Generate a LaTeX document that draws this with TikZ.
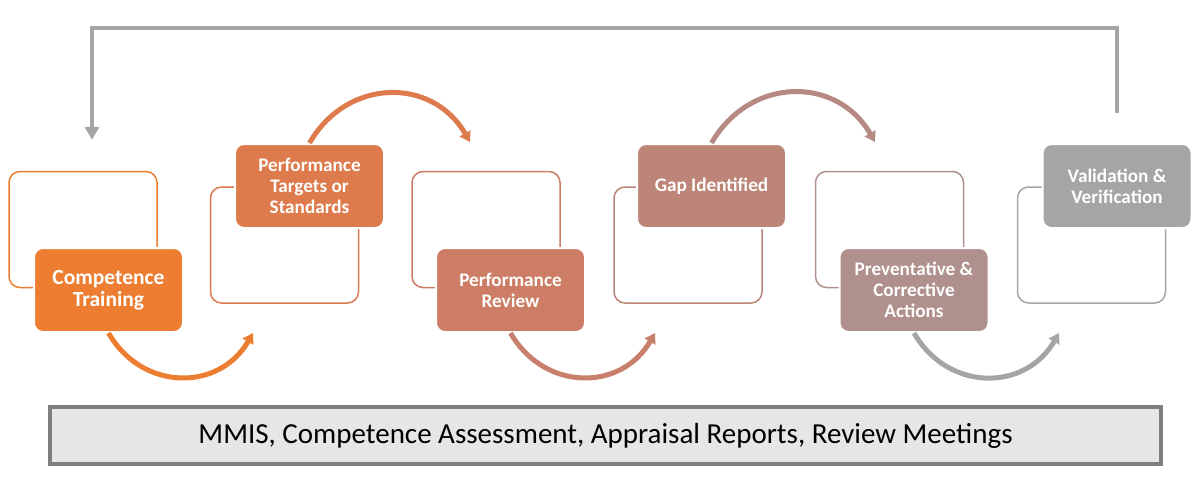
\documentclass[tikz,border=0pt]{standalone}
\usepackage{fontspec}
\setmainfont{Carlito}
\usetikzlibrary{arrows.meta}
\definecolor{stageA}{HTML}{ED7D31}
\definecolor{stageB}{HTML}{DE7B4C}
\definecolor{stageC}{HTML}{CD7D65}
\definecolor{stageD}{HTML}{BC8578}
\definecolor{stageE}{HTML}{B0908C}
\definecolor{stageF}{HTML}{A5A5A5}
\definecolor{infofill}{HTML}{E7E6E6}
\definecolor{infoline}{HTML}{7F7F7F}
\begin{document}
\begin{tikzpicture}[x=1pt, y=-1pt]
        \tikzset{
            frame/.style={
                    rectangle,
                    rounded corners=11pt,
                    draw=#1,
                    line width=1.5pt,
                    minimum width=148pt,
                    minimum height=116pt,
                },
            stage/.style={
                    rectangle,
                    rounded corners=9pt,
                    fill=#1,
                    draw=white,
                    line width=2pt,
                    text=white,
                    align=center,
                    font=\bfseries\fontsize{19.2}{21}\selectfont,
                    minimum width=149pt,
                    minimum height=84pt,
                },
            connection/.style={->, line width=5pt, draw=#1},
            loopback/.style={-{Triangle[length=13pt, width=14pt]}, line width=3.5pt, draw=stageF},
            >={Triangle[length=10pt, width=12pt]},
        }
        % \draw (0, 0) grid[step=100] (1196, 490);
        \useasboundingbox (0, 0) rectangle (1196, 490);
        \node[frame=stageA] (fr1) at (83, 229.5) {};
        \node[frame=stageB] (fr2) at (284.5, 245) {};
        \node[frame=stageC] (fr3) at (486, 229.5) {};
        \node[frame=stageD] (fr4) at (688, 245) {};
        \node[frame=stageE] (fr5) at (889.5, 229.5) {};
        \node[frame=stageF] (fr6) at (1091.5, 245) {};
        \node[stage=stageA, font=\bfseries\fontsize{21.5}{22}\selectfont] (train) at (108.5, 290) {Competence\\Training};
        \node[stage=stageB] (target) at (309.5, 186) {Performance\\Targets or\\Standards};
        \node[stage=stageC] (review) at (510.5, 290) {Performance\\Review};
        \node[stage=stageD] (gap) at (711.5, 186) {Gap Identified};
        \node[stage=stageE] (action) at (914, 290) {Preventative \&\\Corrective\\Actions};
        \node[stage=stageF] (valid) at (1117, 186) {Validation \&\\Verification};
        \node[rectangle, fill=infofill, draw=infoline, line width=4pt,
              minimum width=1111pt, minimum height=57pt,
              font=\fontsize{29}{32}\selectfont] (info) at (605.5, 435.5)
              {MMIS, Competence Assessment, Appraisal Reports, Review Meetings};
        \coordinate (tip1) at (253, 333);
        \coordinate (tip2) at (470, 142);
        \coordinate (tip3) at (655, 333);
        \coordinate (tip4) at (875, 142);
        \coordinate (tip5) at (1059, 333);
        \draw[connection=stageA] (train.south) to[out=-60, in=-120, looseness=1.2] (tip1);
        \draw[connection=stageB] (target.north) to[out=60, in=120, looseness=1.2] (tip2);
        \draw[connection=stageC!70!stageD] (review.south) to[out=-60, in=-120, looseness=1.2] (tip3);
        \draw[connection=stageD!50!stageE] (gap.north) to[out=60, in=120, looseness=1.2] (tip4);
        \draw[connection=stageF] (action.south) to[out=-60, in=-120, looseness=1.2] (tip5);
        \draw[loopback] ([yshift=30pt]valid.north) -- ++(0, -85) -| ([xshift=9pt, yshift=31pt]fr1.north);
    \end{tikzpicture}
\end{document}
